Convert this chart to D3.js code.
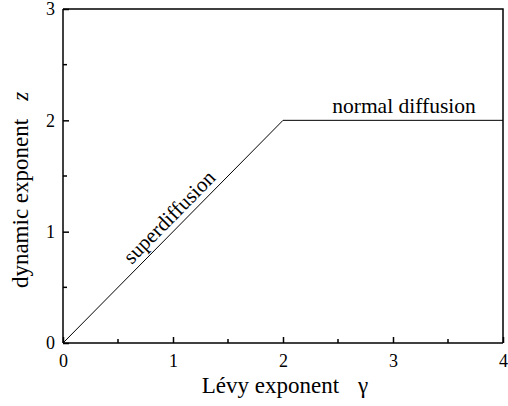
<!DOCTYPE html>
<html>
<head>
<meta charset="utf-8">
<style>
  body { margin: 0; background: #fff; }
</style>
</head>
<body>
<div id="chart"></div>
<script src="https://d3js.org/d3.v7.min.js"></script>
<script>
// data: dynamic exponent z vs Levy exponent gamma
const gammaVals = [0, 2, 4];
const zVals = [0, 2, 2];
const xTicks = [0, 1, 2, 3, 4];
const yTicks = [0, 1, 2, 3];
const xMinor = [0.5, 1.5, 2.5, 3.5];
const yMinor = [0.5, 1.5, 2.5];

const serif = "Liberation Serif";
const width = 508, height = 406;
const margin = { top: 9, right: 5, bottom: 63, left: 63 };

const svg = d3.select("#chart").append("svg")
    .attr("width", width)
    .attr("height", height)
    .attr("font-family", serif);

const x = d3.scaleLinear().domain([0, 4]).range([margin.left, width - margin.right]);
const y = d3.scaleLinear().domain([0, 3]).range([height - margin.bottom, margin.top]);

// frame (top + right)
svg.append("path")
    .attr("d", `M${x(0)},${y(3)}H${x(4)}V${y(0)}`)
    .attr("fill", "none")
    .attr("stroke", "#000")
    .attr("stroke-width", 1.5);

// bottom axis
const gx = svg.append("g")
    .attr("transform", `translate(0,${y(0)})`)
    .call(d3.axisBottom(x).tickValues(xTicks).tickSize(-6).tickPadding(11).tickFormat(d3.format("d")));
gx.append("g").selectAll("line")
    .data(xMinor).join("line")
    .attr("x1", d => x(d)).attr("x2", d => x(d))
    .attr("y1", 0).attr("y2", -4)
    .attr("stroke", "#000").attr("stroke-width", 1.5);

// left axis
const gy = svg.append("g")
    .attr("transform", `translate(${x(0)},0)`)
    .call(d3.axisLeft(y).tickValues(yTicks).tickSize(-6).tickPadding(8).tickFormat(d3.format("d")));
gy.append("g").selectAll("line")
    .data(yMinor).join("line")
    .attr("y1", d => y(d)).attr("y2", d => y(d))
    .attr("x1", 0).attr("x2", 4)
    .attr("stroke", "#000").attr("stroke-width", 1.5);

gx.attr("font-family", serif).attr("font-size", 18);
gy.attr("font-family", serif).attr("font-size", 18);
gx.select(".domain").attr("stroke-width", 1.5).attr("d", `M${x(0)},0H${x(4)}`);
gy.select(".domain").attr("stroke-width", 1.5).attr("d", `M0,${y(0)}V${y(3)}`);
svg.selectAll(".tick line").attr("stroke-width", 1.5);

// curve
const line = d3.line().x((d, i) => x(gammaVals[i])).y((d, i) => y(zVals[i]));
svg.append("path")
    .datum(gammaVals)
    .attr("d", line)
    .attr("fill", "none")
    .attr("stroke", "#000")
    .attr("stroke-width", 1);

// annotations
const angle = Math.atan2(y(2) - y(0), x(2) - x(0)) * 180 / Math.PI;
svg.append("text")
    .attr("transform", `translate(${x(1.05)},${y(1.05)}) rotate(${angle})`)
    .attr("text-anchor", "middle")
    .attr("dy", "-6")
    .attr("font-size", 21)
    .text("superdiffusion");

svg.append("text")
    .attr("x", x(3.1))
    .attr("y", y(2) - 7)
    .attr("text-anchor", "middle")
    .attr("font-size", 21.5)
    .text("normal diffusion");

// axis titles
const xt = svg.append("text")
    .attr("x", 285)
    .attr("y", 393)
    .attr("text-anchor", "middle")
    .attr("font-size", 23);
xt.append("tspan").text("Lévy exponent");
xt.append("tspan").attr("dx", 19).text("γ");

const yt = svg.append("text")
    .attr("transform", `translate(28,190) rotate(-90)`)
    .attr("text-anchor", "middle")
    .attr("font-size", 23);
yt.append("tspan").text("dynamic exponent");
yt.append("tspan").attr("dx", 18).attr("font-style", "italic").text("z");
</script>
</body>
</html>
